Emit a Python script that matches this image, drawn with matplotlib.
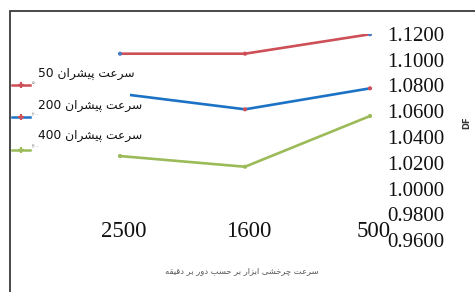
import matplotlib
matplotlib.use("Agg")
import matplotlib.pyplot as plt
from matplotlib.patches import Rectangle
from matplotlib.lines import Line2D
from matplotlib.ticker import FormatStrFormatter
from matplotlib.transforms import ScaledTranslation

# ---------------- data ----------------
categories = ["2500", "1600", "500"]
series_labels = ["سرعت پیشران 50", "سرعت پیشران 200", "سرعت پیشران 400"]
series_small = ["۵۰", "۲۰۰", "۴۰۰"]
red_values = [1.1047, 1.1047, 1.1198]
blue_values = [1.0736, 1.0615, 1.0778]
green_values = [1.0252, 1.0169, 1.0563]
y_ticks = [0.96, 0.98, 1.00, 1.02, 1.04, 1.06, 1.08, 1.10, 1.12]
x_title = "سرعت چرخشی ابزار بر حسب دور بر دقیقه"
y_title = "DF"

# ---------------- Persian shaping (matplotlib has no complex text layout) ----------------
FORMS = {
    "ا": ("\uFE8D", "\uFE8E", None, None),
    "ب": ("\uFE8F", "\uFE90", "\uFE91", "\uFE92"),
    "پ": ("\uFB56", "\uFB57", "\uFB58", "\uFB59"),
    "ت": ("\uFE95", "\uFE96", "\uFE97", "\uFE98"),
    "چ": ("\uFB7A", "\uFB7B", "\uFB7C", "\uFB7D"),
    "ح": ("\uFEA1", "\uFEA2", "\uFEA3", "\uFEA4"),
    "خ": ("\uFEA5", "\uFEA6", "\uFEA7", "\uFEA8"),
    "د": ("\uFEA9", "\uFEAA", None, None),
    "ر": ("\uFEAD", "\uFEAE", None, None),
    "ز": ("\uFEAF", "\uFEB0", None, None),
    "س": ("\uFEB1", "\uFEB2", "\uFEB3", "\uFEB4"),
    "ش": ("\uFEB5", "\uFEB6", "\uFEB7", "\uFEB8"),
    "ع": ("\uFEC9", "\uFECA", "\uFECB", "\uFECC"),
    "ق": ("\uFED5", "\uFED6", "\uFED7", "\uFED8"),
    "ن": ("\uFEE5", "\uFEE6", "\uFEE7", "\uFEE8"),
    "ه": ("\uFEE9", "\uFEEA", "\uFEEB", "\uFEEC"),
    "و": ("\uFEED", "\uFEEE", None, None),
    "ی": ("\uFBFC", "\uFBFD", "\uFBFE", "\uFBFF"),
}
DIGITS = set("0123456789۰۱۲۳۴۵۶۷۸۹.")


def shape(text):
    out = []
    n = len(text)
    for i, c in enumerate(text):
        if c not in FORMS:
            out.append(c)
            continue
        prev = text[i - 1] if i > 0 else None
        nxt = text[i + 1] if i < n - 1 else None
        jp = prev in FORMS and FORMS[prev][2] is not None
        jn = FORMS[c][2] is not None and nxt in FORMS
        f = FORMS[c]
        if jp and jn:
            out.append(f[3])
        elif jp:
            out.append(f[1])
        elif jn:
            out.append(f[2])
        else:
            out.append(f[0])
    vis = out[::-1]
    # restore left-to-right order of digit runs
    res, run = [], []
    for ch in vis:
        if ch in DIGITS:
            run.append(ch)
        else:
            if run:
                res.extend(run[::-1])
                run = []
            res.append(ch)
    if run:
        res.extend(run[::-1])
    return "".join(res)


# ---------------- figure ----------------
W, H = 475, 292
fig = plt.figure(figsize=(W / 100, H / 100), dpi=100)
fig.patch.set_facecolor("white")


def fx(px):
    return px / W


def fy(py):
    return 1 - py / H


ax_left, ax_right, ax_top, ax_bottom = 10, 382, 34, 240
ax = fig.add_axes([fx(ax_left), fy(ax_bottom), fx(ax_right - ax_left), (ax_bottom - ax_top) / H])
ax.set_facecolor("none")
for s in ax.spines.values():
    s.set_visible(False)

x = list(range(len(categories)))
colors = ["#CD4F57", "#1C72C4", "#9BBB59"]
marker_colors = [["#4A7CC4", "#CD4F57", "#4A7CC4"],
                 ["#1C72C4", "#CD4F57", "#CD4F57"],
                 ["#9BBB59", "#9BBB59", "#9BBB59"]]
all_values = [red_values, blue_values, green_values]

for vals, col, mcols in zip(all_values, colors, marker_colors):
    ax.plot(x, vals, color=col, lw=1.9, zorder=2, solid_capstyle="round")
    ax.scatter(x, vals, s=9, c=mcols, zorder=3, linewidths=0)

ax.set_xlim(-(120 - ax_left) / 125, 2 + (ax_right - 370) / 125)
ax.set_ylim(0.96, 1.12)

ax.yaxis.tick_right()
ax.set_yticks(y_ticks)
ax.yaxis.set_major_formatter(FormatStrFormatter("%.4f"))
ax.tick_params(axis="y", length=0, pad=4.0, labelsize=15, labelcolor="#111111")
for lab in ax.get_yticklabels():
    lab.set_fontfamily("Liberation Serif")

ax.set_xticks(x)
ax.set_xticklabels(categories, fontfamily="Liberation Serif", fontsize=16.5, color="#111111")
ax.tick_params(axis="x", length=0, pad=-13.5)
for lab in ax.get_xticklabels():
    lab.set_transform(lab.get_transform() + ScaledTranslation(4 / 100, 0, fig.dpi_scale_trans))

# white legend area covering the start of the blue line
fig.add_artist(Rectangle((fx(11), fy(150)), fx(119), (150 - 62) / H, transform=fig.transFigure,
                         facecolor="white", edgecolor="none", zorder=4))

# legend entries
text_y = [74, 105, 136]
handle_y = [85, 117, 150]
for lbl, small, col, mcols, ty, hy in zip(series_labels, series_small, colors, marker_colors, text_y, handle_y):
    fig.text(fx(38), fy(ty), shape(lbl), ha="left", va="center", fontsize=8.8,
             family=["DejaVu Sans"], color="#111111", zorder=5)
    fig.add_artist(Line2D([fx(12), fx(30)], [fy(hy), fy(hy)], color=col, lw=1.8,
                          transform=fig.transFigure, zorder=5))
    fig.add_artist(Line2D([fx(21)], [fy(hy)], marker="+", ms=5, mew=1.6, color=mcols[1] if col != colors[1] else colors[0],
                          transform=fig.transFigure, zorder=6))
    fig.text(fx(32), fy(hy - 3), small, ha="left", va="center", fontsize=3.5,
             family=["DejaVu Sans"], color="#777777", zorder=5)

# axis titles
fig.text(fx(242), fy(271), shape(x_title), ha="center", va="center", fontsize=6.0,
         family=["DejaVu Sans"], color="#555555")
fig.text(fx(467), fy(123), y_title, ha="center", va="center", rotation=90, fontsize=6,
         fontweight="bold", family=["DejaVu Sans"], color="#333333")

# outer frame (cropped at right/bottom)
fig.add_artist(Rectangle((fx(10), -0.2), 1.0, fy(11) + 0.2, transform=fig.transFigure,
                         fill=False, edgecolor="#3a3a3a", lw=1.3, zorder=10))

fig.savefig("out.png", dpi=100, facecolor="white")
